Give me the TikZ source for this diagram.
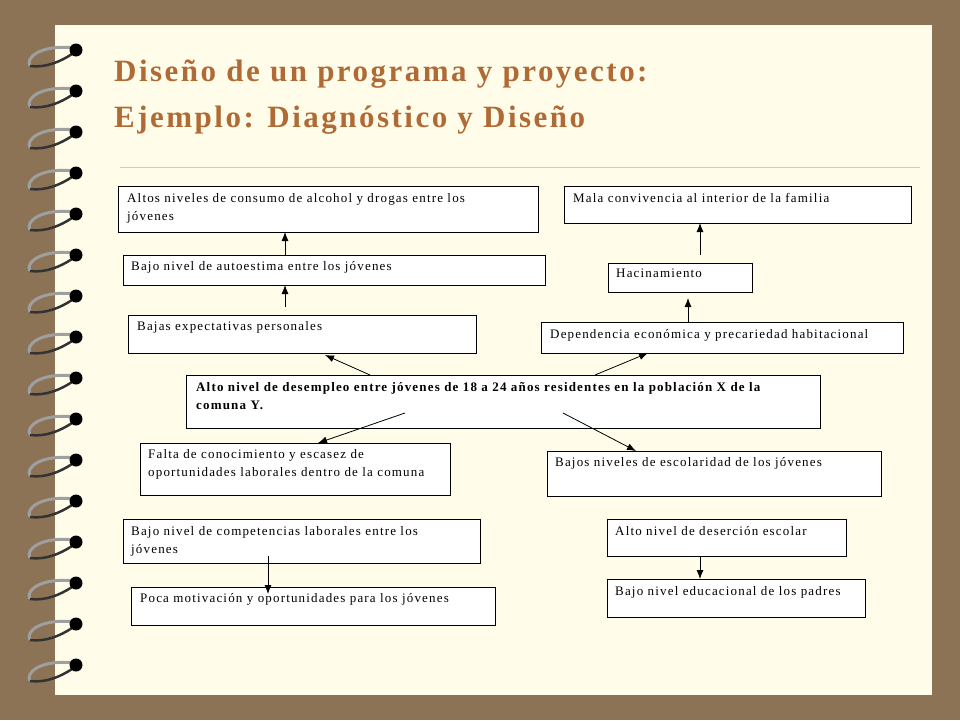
\documentclass[tikz,border=0pt]{standalone}
\usepackage{fontspec}
\setmainfont{Liberation Serif}
\usepackage{tikz}
\usetikzlibrary{arrows.meta}
\definecolor{bgbrown}{HTML}{8C7356}
\definecolor{paper}{HTML}{FFFDE9}
\definecolor{titlebrown}{HTML}{B06A35}
\tikzset{
  causebox/.style={draw,line width=0.8pt,fill=white},
  boxtext/.style={anchor=north west,font=\fontsize{13}{18.5}\selectfont\addfontfeature{LetterSpace=9},align=left,inner sep=0pt},
  link/.style={-{Latex[length=9pt,width=7pt]},line width=0.8pt},
}
\begin{document}
\begin{tikzpicture}[x=1pt,y=-1pt]

\useasboundingbox (0,0) rectangle (960,720);
\fill[bgbrown] (0,0) rectangle (960,720);
\fill[paper] (55,25) rectangle (932,695);

% rings
\foreach \r in {0,...,15} {
  \draw[gray!75,line width=3pt] (75,{48+41*\r}) .. controls (40,{44+41*\r}) and (25,{58+41*\r}) .. (30,{66+41*\r});
  \draw[gray!40!black,line width=2.5pt] (30,{66+41*\r}) .. controls (45,{68+41*\r}) and (60,{62+41*\r}) .. (72,{54+41*\r});
  \fill[black] (76,{50+41*\r}) circle (6.5);
}

% title
\node[anchor=north west,text=titlebrown,font=\bfseries\fontsize{31}{46}\selectfont\addfontfeature{LetterSpace=8},align=left,inner sep=0pt] (title) at (114,60)
  {Diseño de un programa y proyecto:\\Ejemplo: Diagnóstico y Diseño};
\draw[gray!40] (120,167) -- (920,167);

% boxes
\foreach \nm/\xa/\ya/\xb/\yb in {a1/118/186/538/232, a2/123/255/545/285, a3/128/315/476/353,
    mid/186/375/820/428, b1/140/443/450/495, b2/123/519/480/563, b3/131/587/495/625,
    r1/564/186/911/223, r2/608/263/752/292, r3/541/322/903/353, r4/547/451/881/496,
    r5/607/519/846/556, r6/607/579/865/617}
  \draw[causebox] (\xa,\ya) rectangle (\xb,\yb) coordinate (\nm);

\node[boxtext] (t_a1) at (127,193) {Altos niveles de consumo de alcohol y drogas entre los\\jóvenes};
\node[boxtext] (t_a2) at (131,261) {Bajo nivel de autoestima entre los jóvenes};
\node[boxtext] (t_a3) at (137,321) {Bajas expectativas personales};
\node[boxtext,font=\bfseries\fontsize{13}{18.5}\selectfont\addfontfeature{LetterSpace=9}] (t_mid) at (196,382) {Alto nivel de desempleo entre jóvenes de 18 a 24 años residentes en la población X de la\\comuna Y.};
\node[boxtext] (t_b1) at (148,449) {Falta de conocimiento y escasez de\\oportunidades laborales dentro de la comuna};
\node[boxtext] (t_b2) at (131,526) {Bajo nivel de competencias laborales entre los\\jóvenes};
\node[boxtext] (t_b3) at (140,593) {Poca motivación y oportunidades para los jóvenes};
\node[boxtext] (t_r1) at (573,193) {Mala convivencia al interior de la familia};
\node[boxtext] (t_r2) at (616,269) {Hacinamiento};
\node[boxtext] (t_r3) at (550,329) {Dependencia económica y precariedad habitacional};
\node[boxtext] (t_r4) at (555,457) {Bajos niveles de escolaridad de los jóvenes};
\node[boxtext] (t_r5) at (615,526) {Alto nivel de deserción escolar};
\node[boxtext] (t_r6) at (615,586) {Bajo nivel educacional de los padres};

% arrows
\coordinate (p1) at (285,307); \coordinate (q1) at (285,285);
\coordinate (p2) at (285,255); \coordinate (q2) at (285,232);
\coordinate (p3) at (700,255); \coordinate (q3) at (700,223);
\coordinate (p4) at (688,322); \coordinate (q4) at (688,298);
\coordinate (p5) at (370,375); \coordinate (q5) at (325,355);
\coordinate (p6) at (595,375); \coordinate (q6) at (648,353);
\coordinate (p7) at (405,413); \coordinate (q7) at (318,443);
\coordinate (p8) at (563,413); \coordinate (q8) at (636,451);
\coordinate (p9) at (268,556); \coordinate (q9) at (268,594);
\coordinate (p10) at (700,556); \coordinate (q10) at (700,579);
\foreach \i in {1,...,10}
  \draw[link] (p\i) -- (q\i);

\end{tikzpicture}
\end{document}
